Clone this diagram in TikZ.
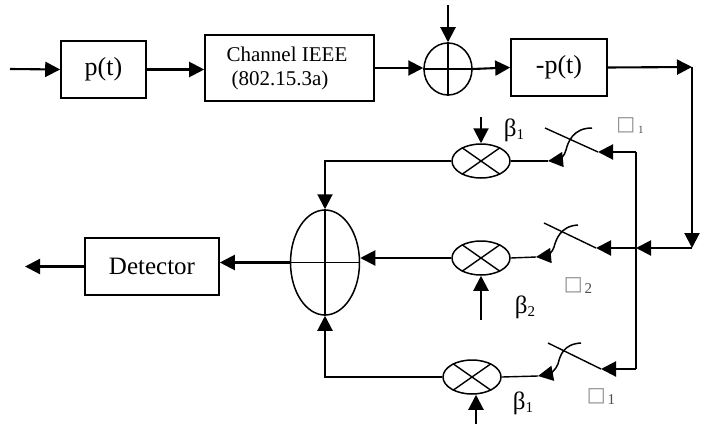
\documentclass[tikz,border=0pt]{standalone}
\usepackage{fontspec}
\setmainfont{Liberation Serif}
\newfontfamily\boxfont{DejaVu Sans}
\usetikzlibrary{arrows.meta,shapes.geometric}
\newcommand{\subtext}[2]{\fontsize{25}{28}\selectfont #1\raisebox{-3pt}{\fontsize{15}{15}\selectfont #2}}
\newcommand{\tautext}[3]{{\boxfont\fontsize{20}{20}\selectfont\color{black!45}\char"25A1}\hspace{#3}\raisebox{-3pt}{\fontsize{#2}{#2}\selectfont\color{black!70} #1}}

\begin{document}
\begin{tikzpicture}[x=1pt,y=-1pt]
	\tikzstyle{block}=[rectangle,draw=black,line width=1.6pt,inner sep=0pt]
	\tikzstyle{adder}=[ellipse,draw=black,line width=1.5pt,inner sep=0pt]
	\tikzstyle{mult}=[ellipse,draw=black,line width=1.5pt,inner sep=0pt,minimum width=58pt,minimum height=34pt]
	\tikzstyle{flow}=[line width=2.1pt,-{Triangle[length=15pt,width=15pt]}]
	\tikzstyle{thin line}=[line width=1.4pt]
	\tikzstyle{bus}=[line width=2.1pt]
	\useasboundingbox (0,0) rectangle (708,425);
	\node[block,minimum width=85pt,minimum height=57pt,font=\fontsize{26}{30}\selectfont] (pt) at (103.5,69.5) {p(t)};
	\node[block,minimum width=169pt,minimum height=66pt,align=left,font=\fontsize{21}{24}\selectfont] (chan) at (289.5,68) {Channel IEEE\hspace*{5pt}\\\hspace*{5pt}(802.15.3a)};
	\node[adder,minimum width=48pt,minimum height=52pt] (add) at (448,69) {};
	\node[block,minimum width=96pt,minimum height=57pt,font=\fontsize{26}{30}\selectfont] (mpt) at (559,67.5) {-p(t)};
	\node[block,minimum width=134pt,minimum height=57pt,font=\fontsize{25}{30}\selectfont] (det) at (152,266.5) {Detector};
	\node[adder,minimum width=69pt,minimum height=105pt] (sum) at (325,262.5) {};
	\node[mult] (mul1) at (481,161) {};
	\node[mult] (mul2) at (481,258) {};
	\node[mult] (mul3) at (472,377) {};
	\coordinate (in) at (10,69);
	\coordinate (addin) at (448,5);
	\coordinate (corner) at (692,67);
	\coordinate (right) at (692,248);
	\coordinate (bus1) at (636,152);
	\coordinate (bus2) at (636,248);
	\coordinate (bus3) at (636,369);
	\coordinate (out) at (25,266.5);
	\coordinate (sw1a) at (545,128);
	\coordinate (sw1b) at (598,152);
	\coordinate (sw2a) at (544,223);
	\coordinate (sw2b) at (596,248);
	\coordinate (sw3a) at (548,343);
	\coordinate (sw3b) at (601,369);
	\coordinate (tip1) at (548,161);
	\coordinate (tip2) at (536,257);
	\coordinate (tip3) at (538,376);
	\coordinate (b1in) at (481,117);
	\coordinate (b2in) at (481,320);
	\coordinate (b3in) at (476,424);
	\draw[flow] (in) -- (pt.west);
	\draw[flow] (pt.east) -- (chan.west |- pt.east);
	\draw[flow] (chan.east) -- (add.west |- chan.east);
	\draw[flow] (addin) -- (add.north);
	\draw[flow] (add.east) -- (mpt.west);
	\draw[flow] (mpt.east) -- (corner);
	\draw[flow] (corner) -- (right);
	\draw[flow] (right) -- (bus2);
	\draw[flow] (bus2) -- (sw2b);
	\draw[bus] (bus1) -- (bus3);
	\draw[flow] (bus1) -- (sw1b);
	\draw[flow] (bus3) -- (sw3b);
	\draw[thin line] (add.north) -- (add.south);
	\draw[thin line] (add.west) -- (add.east);
	\draw[thin line] (sum.north) -- (sum.south);
	\draw[thin line] (sum.west) -- (sum.east);
	\draw[thin line] (mul1.35) -- (mul1.215);
	\draw[thin line] (mul1.145) -- (mul1.325);
	\draw[thin line] (mul2.35) -- (mul2.215);
	\draw[thin line] (mul2.145) -- (mul2.325);
	\draw[thin line] (mul3.35) -- (mul3.215);
	\draw[thin line] (mul3.145) -- (mul3.325);
	\draw[thin line] (sw1a) -- (sw1b);
	\draw[thin line] (sw2a) -- (sw2b);
	\draw[thin line] (sw3a) -- (sw3b);
	\draw[thin line] (mul1.east) -- (tip1);
	\draw[thin line] (mul2.east) -- (tip2);
	\draw[thin line] (mul3.east) -- (tip3);
	\draw[flow,line width=1.5pt] (592,128) .. controls (573,128) and (568,142) .. (566,150) .. controls (565,156) and (558,160) .. (tip1);
	\draw[flow,line width=1.5pt] (578,225) .. controls (560,226) and (556,240) .. (554,247) .. controls (553,252) and (546,256) .. (tip2);
	\draw[flow,line width=1.5pt] (581,343) .. controls (563,344) and (560,356) .. (558,364) .. controls (556,370) and (549,374) .. (tip3);
	\draw[flow] (b1in) -- (mul1.north);
	\draw[flow] (b2in) -- (mul2.south);
	\draw[flow] (b3in) -- (b3in |- mul3.south);
	\draw[flow] (mul1.west) -- (mul1.west -| sum.north) -- (sum.north);
	\draw[flow] (mul2.west) -- (mul2.west -| sum.east);
	\draw[flow] (mul3.west) -- (mul3.west -| sum.south) -- (sum.south);
	\draw[flow] (sum.west) -- (sum.west -| det.east);
	\draw[flow] (det.west) -- (out);
	\node[inner sep=0pt] (beta1) at (514,130) {\subtext{β}{1}};
	\node[inner sep=0pt] (beta2) at (525,307) {\subtext{β}{2}};
	\node[inner sep=0pt] (beta3) at (523,403) {\subtext{β}{1}};
	\node[inner sep=0pt] (tau1) at (630,126) {\tautext{1}{11}{3pt}};
	\node[inner sep=0pt] (tau2) at (578,286) {\tautext{2}{15}{2pt}};
	\node[inner sep=0pt] (tau3) at (601,397) {\tautext{1}{15}{2pt}};
\end{tikzpicture}
\end{document}
